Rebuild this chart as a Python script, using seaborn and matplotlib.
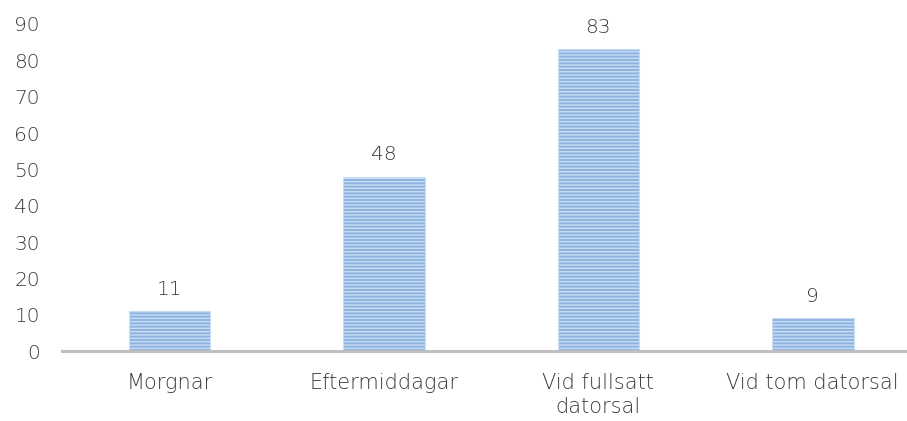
import matplotlib
matplotlib.use("Agg")
import matplotlib.pyplot as plt
import seaborn as sns
import pandas as pd

categories = ["Morgnar", "Eftermiddagar", "Vid fullsatt\ndatorsal", "Vid tom datorsal"]
values = [11, 48, 83, 9]
yticks = [0, 10, 20, 30, 40, 50, 60, 70, 80, 90]

sns.set_theme(style="white")
plt.rcParams['font.family'] = ['DejaVu Sans']
plt.rcParams['font.weight'] = 'light'
plt.rcParams['hatch.linewidth'] = 1.0

df = pd.DataFrame({"cat": categories, "val": values})

fig = plt.figure(figsize=(9.07, 4.21), dpi=100)
ax = fig.add_axes([0.0684, 0.166, 0.946, 0.777])

sns.barplot(data=df, x="cat", y="val", ax=ax, color="#8DB4E2", width=0.38,
            saturation=1, edgecolor="#C9DCF2", linewidth=0.8, hatch="-----")

for p in ax.patches:
    p.set_hatch("-----")

ax.set_ylim(0, 90)
ax.set_yticks(yticks)
ax.set_xlabel("")
ax.set_ylabel("")
gray = "#3A3A3A"
ax.tick_params(axis="y", length=0, pad=16, labelsize=14.5, labelcolor=gray)
ax.tick_params(axis="x", length=0, pad=16, labelsize=15, labelcolor=gray)
for lbl in ax.get_xticklabels() + ax.get_yticklabels():
    lbl.set_fontweight('light')
for s in ["top", "right", "left"]:
    ax.spines[s].set_visible(False)
ax.spines["bottom"].set_color("#BFBFBF")
ax.spines["bottom"].set_linewidth(2.2)

for c in ax.containers:
    ax.bar_label(c, labels=[str(v) for v in values], padding=9, fontsize=14.5,
                 color=gray, fontweight='light')

fig.savefig("out.png", dpi=100)
